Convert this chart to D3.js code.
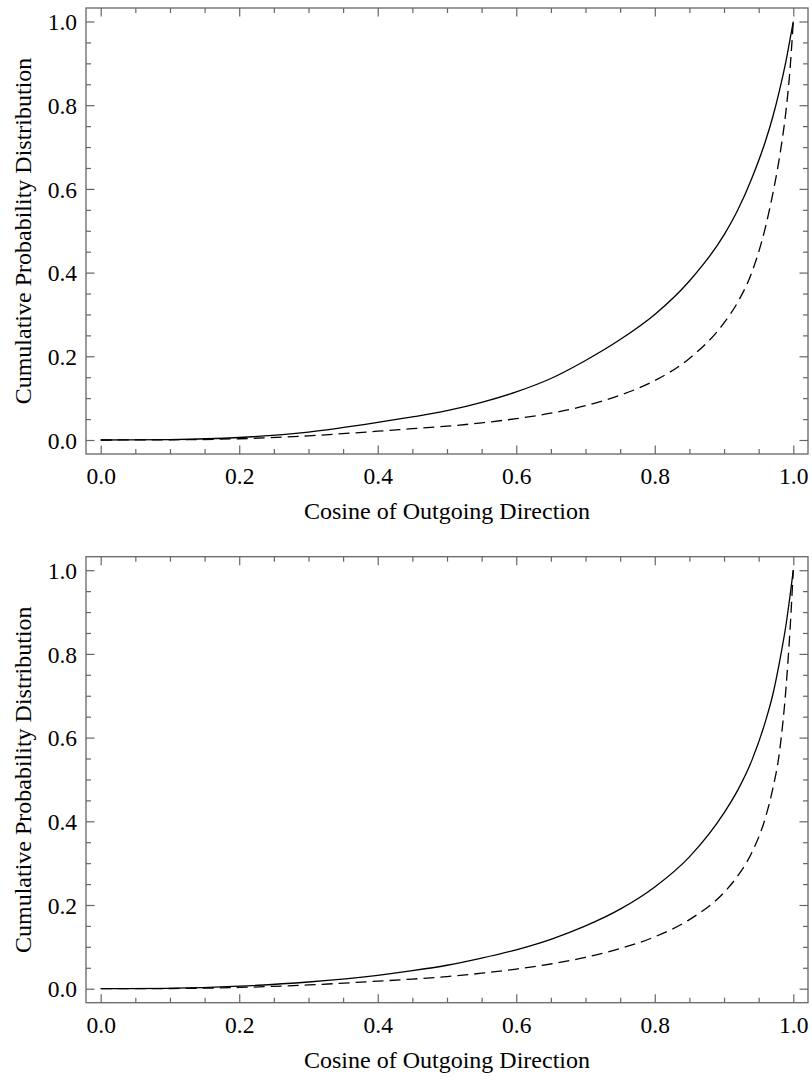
<!DOCTYPE html>
<html>
<head>
<meta charset="utf-8">
<script src="https://cdn.jsdelivr.net/npm/d3@7/dist/d3.min.js"></script>
<style>
  body { margin: 0; background: #fff; }
  text { font-family: "Liberation Serif", "Times New Roman", serif; fill: #000; }
</style>
</head>
<body>
<div id="chart"></div>
<script>
// sampled cosine values shared by all series
const cosines = [0, 0.1, 0.2, 0.3, 0.4, 0.45, 0.5, 0.55, 0.6, 0.65, 0.7, 0.75, 0.8, 0.85, 0.9, 0.92, 0.94, 0.96, 0.97, 0.98, 0.99, 0.995, 1.0];

// upper panel
const topSolid  = [0, 0.001, 0.006, 0.019, 0.042, 0.055, 0.07, 0.09, 0.115, 0.147, 0.19, 0.24, 0.30, 0.38, 0.49, 0.55, 0.625, 0.715, 0.77, 0.835, 0.91, 0.955, 1.0];
const topDashed = [0, 0.0005, 0.003, 0.01, 0.021, 0.027, 0.033, 0.041, 0.051, 0.064, 0.082, 0.107, 0.142, 0.195, 0.28, 0.33, 0.40, 0.51, 0.585, 0.675, 0.795, 0.88, 1.0];

// lower panel
const botSolid  = [0, 0.001, 0.006, 0.016, 0.032, 0.043, 0.056, 0.073, 0.093, 0.118, 0.15, 0.19, 0.243, 0.315, 0.42, 0.475, 0.545, 0.64, 0.70, 0.78, 0.875, 0.935, 1.0];
const botDashed = [0, 0.0005, 0.003, 0.009, 0.018, 0.023, 0.029, 0.037, 0.047, 0.059, 0.075, 0.096, 0.124, 0.165, 0.23, 0.27, 0.325, 0.41, 0.475, 0.565, 0.73, 0.85, 1.0];

const majorTicks = [0, 0.2, 0.4, 0.6, 0.8, 1.0];
const minorTicks = d3.range(0, 1.0001, 0.05).filter(v => Math.abs(v * 5 - Math.round(v * 5)) > 1e-6);

const xLabel = 'Cosine of Outgoing Direction';
const yLabel = 'Cumulative Probability Distribution';

const W = 812, H = 1085;
const svg = d3.select('#chart').append('svg').attr('width', W).attr('height', H);

const frameColor = '#666';
const frame = { left: 86, right: 808, height: 446 };

const x = d3.scaleLinear().domain([0, 1]).range([100.7, 793.3]);

function drawPanel(top, solid, dashed) {
  const g = svg.append('g').attr('transform', `translate(0, ${top})`);
  const y = d3.scaleLinear().domain([0, 1]).range([432, 13.5]);
  const fb = frame.height;

  const styleAxis = (sel) => {
    sel.select('.domain').remove();
    sel.selectAll('line').attr('stroke', frameColor).attr('stroke-width', 1.2);
  };

  // bottom major with labels
  const bx = g.append('g').attr('transform', `translate(0, ${fb})`)
    .call(d3.axisBottom(x).tickValues(majorTicks).tickSize(-8.5).tickFormat(d3.format('.1f')));
  bx.call(styleAxis);
  bx.selectAll('text').attr('y', 30).attr('dy', 0).style('font-size', '23.5px');
  g.append('g').attr('transform', `translate(0, ${fb})`)
    .call(d3.axisBottom(x).tickValues(minorTicks).tickSize(-5).tickFormat(''))
    .call(styleAxis);
  // top mirror ticks
  g.append('g').call(d3.axisTop(x).tickValues(majorTicks).tickSize(-8.5).tickFormat('')).call(styleAxis);
  g.append('g').call(d3.axisTop(x).tickValues(minorTicks).tickSize(-5).tickFormat('')).call(styleAxis);

  // left major with labels
  const ly = g.append('g').attr('transform', `translate(${frame.left}, 0)`)
    .call(d3.axisLeft(y).tickValues(majorTicks).tickSize(-8.5).tickFormat(d3.format('.1f')));
  ly.call(styleAxis);
  ly.selectAll('text').attr('x', -9).attr('dy', '0.35em').style('font-size', '23.5px');
  g.append('g').attr('transform', `translate(${frame.left}, 0)`)
    .call(d3.axisLeft(y).tickValues(minorTicks).tickSize(-5).tickFormat(''))
    .call(styleAxis);
  // right mirror ticks
  g.append('g').attr('transform', `translate(${frame.right}, 0)`)
    .call(d3.axisRight(y).tickValues(majorTicks).tickSize(-8.5).tickFormat('')).call(styleAxis);
  g.append('g').attr('transform', `translate(${frame.right}, 0)`)
    .call(d3.axisRight(y).tickValues(minorTicks).tickSize(-5).tickFormat('')).call(styleAxis);

  // frame
  g.append('rect')
    .attr('x', frame.left).attr('y', 0)
    .attr('width', frame.right - frame.left).attr('height', fb)
    .attr('fill', 'none').attr('stroke', frameColor).attr('stroke-width', 1.3);

  const line = d3.line()
    .x((d, i) => x(cosines[i]))
    .y(d => y(d))
    .curve(d3.curveMonotoneX);

  g.append('path').datum(solid)
    .attr('d', line).attr('fill', 'none').attr('stroke', '#000').attr('stroke-width', 1.3);
  g.append('path').datum(dashed)
    .attr('d', line).attr('fill', 'none').attr('stroke', '#000').attr('stroke-width', 1.3)
    .attr('stroke-dasharray', '11,6');

  // axis titles
  g.append('text')
    .attr('x', (frame.left + frame.right) / 2).attr('y', fb + 65)
    .attr('text-anchor', 'middle').style('font-size', '24px')
    .text(xLabel);
  g.append('text')
    .attr('transform', `translate(31, ${fb / 2}) rotate(-90)`)
    .attr('text-anchor', 'middle').style('font-size', '24px')
    .text(yLabel);
}

drawPanel(8, topSolid, topDashed);
drawPanel(556.7, botSolid, botDashed);
</script>
</body>
</html>
